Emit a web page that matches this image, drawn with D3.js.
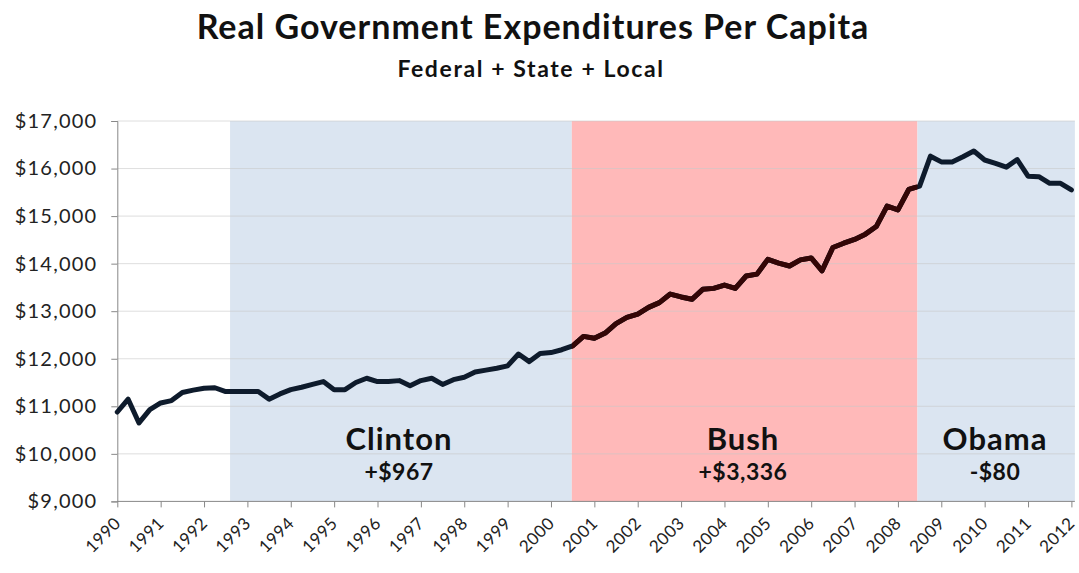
<!DOCTYPE html>
<html>
<head>
<meta charset="utf-8">
<script src="https://cdn.jsdelivr.net/npm/d3@7"></script>
<style>
  body { margin: 0; background: #fff; }
  text { font-family: Lato, "Open Sans", sans-serif; }
</style>
</head>
<body>
<div id="chart"></div>
<script>
// quarterly data, 1990 Q1 .. 2012 Q1
var startYear = 1990;
var spending = [
  10880, 11150, 10650, 10930, 11070, 11120, 11290, 11340, 11380, 11390,
  11310, 11310, 11310, 11310, 11150, 11260, 11350, 11400, 11460, 11520,
  11350, 11350, 11500, 11590, 11520, 11520, 11540, 11430, 11540, 11590,
  11460, 11560, 11610, 11720, 11760, 11800, 11850, 12100, 11940, 12110,
  12130, 12190, 12270, 12470, 12430, 12540, 12740, 12870, 12940, 13080,
  13180, 13360, 13300, 13250, 13460, 13480, 13550, 13480, 13740, 13780,
  14090, 14010, 13950, 14080, 14120, 13850, 14340, 14430, 14510, 14620,
  14780, 15210, 15130, 15560, 15630, 16260, 16140, 16140, 16250, 16370,
  16180, 16110, 16030, 16190, 15840, 15830, 15690, 15690, 15550
];
var yearTicks = d3.range(1990, 2013);
var yTicks = [9000, 10000, 11000, 12000, 13000, 14000, 15000, 16000, 17000];

var presidents = ["Clinton", "Bush", "Obama"];
var termStart = [1992.6, 2000.48, 2008.45];
var termEnd = [2000.48, 2008.45, 2012.08];
var termChange = ["+$967", "+$3,336", "-$80"];
var termColor = ["#dbe5f1", "#ffb9b9", "#dbe5f1"];

var svgWidth = 1079, svgHeight = 573;

var svg = d3.select("#chart").append("svg")
    .attr("width", svgWidth)
    .attr("height", svgHeight);

var x = d3.scaleLinear().domain([1990, 2012]).range([117.3, 1071.4]);
var y = d3.scaleLinear().domain([9000, 17000]).range([501.4, 121]);

var data = spending.map(function (v, i) { return { year: startYear + i / 4, value: v }; });

// title
svg.append("text")
    .attr("x", 533).attr("y", 39)
    .attr("text-anchor", "middle")
    .style("font-size", "34px").style("font-weight", "bold").style("fill", "#111")
    .style("letter-spacing", "1px")
    .text("Real Government Expenditures Per Capita");
svg.append("text")
    .attr("x", 531).attr("y", 77)
    .attr("text-anchor", "middle")
    .style("font-size", "23px").style("font-weight", "bold").style("fill", "#111")
    .style("letter-spacing", "1.6px")
    .text("Federal + State + Local");

// shading
svg.append("g").selectAll("rect")
    .data(presidents)
    .enter().append("rect")
    .attr("x", function (d, i) { return x(termStart[i]); })
    .attr("width", function (d, i) { return x(termEnd[i]) - x(termStart[i]); })
    .attr("y", y(17000))
    .attr("height", y(9000) - y(17000))
    .style("fill", function (d, i) { return termColor[i]; });

// gridlines
svg.append("g").selectAll("line")
    .data(yTicks.slice(1))
    .enter().append("line")
    .attr("x1", x(1990)).attr("x2", x(termEnd[2]))
    .attr("y1", function (d) { return y(d); })
    .attr("y2", function (d) { return y(d); })
    .style("stroke", "#c8c8c8").style("stroke-opacity", 0.6).style("stroke-width", 1);

// axes
var yAxis = svg.append("g")
    .attr("transform", "translate(" + x(1990) + ",0)")
    .call(d3.axisLeft(y).tickValues(yTicks).tickSize(6).tickPadding(14)
        .tickFormat(function (d) { return "$" + d3.format(",")(d); }));
yAxis.select(".domain").style("stroke", "#888");
yAxis.selectAll(".tick line").style("stroke", "#888");
yAxis.selectAll("text").style("font-size", "20px").style("fill", "#222")
    .style("letter-spacing", "1.2px")
    .style("font-family", "Lato, 'Open Sans', sans-serif");

var xAxis = svg.append("g")
    .attr("transform", "translate(0," + y(9000) + ")")
    .call(d3.axisBottom(x).tickValues(yearTicks).tickSize(6).tickFormat(d3.format("d")));
xAxis.select(".domain").attr("d", "M" + x(1990) + ",0H" + x(termEnd[2])).style("stroke", "#888");
xAxis.selectAll(".tick line").style("stroke", "#888");
xAxis.selectAll("text")
    .attr("text-anchor", "end")
    .attr("dy", null)
    .attr("transform", "translate(4,23) rotate(-45)")
    .attr("y", 0).attr("x", 0)
    .style("font-size", "17px").style("fill", "#222")
    .style("letter-spacing", "0.5px")
    .style("font-family", "Lato, 'Open Sans', sans-serif");

// line, with a red-tinted copy clipped to the Bush years
var line = d3.line()
    .x(function (d) { return x(d.year); })
    .y(function (d) { return y(d.value); });

svg.append("path")
    .datum(data)
    .attr("d", line)
    .style("fill", "none").style("stroke", "#0e1b2c")
    .style("stroke-width", 5).style("stroke-linejoin", "round").style("stroke-linecap", "round");

svg.append("clipPath").attr("id", "bushClip")
    .append("rect")
    .attr("x", x(termStart[1])).attr("width", x(termEnd[1]) - x(termStart[1]))
    .attr("y", 0).attr("height", svgHeight);

svg.append("path")
    .datum(data)
    .attr("d", line)
    .attr("clip-path", "url(#bushClip)")
    .style("fill", "none").style("stroke", "#330606")
    .style("stroke-width", 5).style("stroke-linejoin", "round").style("stroke-linecap", "round");

// president labels
var labelX = [399, 743, 995];
var names = svg.append("g").selectAll("g")
    .data(presidents)
    .enter().append("g");
names.append("text")
    .attr("x", function (d, i) { return labelX[i]; })
    .attr("y", 450)
    .attr("text-anchor", "middle")
    .style("font-size", "31px").style("font-weight", "bold").style("fill", "#111")
    .style("letter-spacing", "1px")
    .text(function (d) { return d; });
names.append("text")
    .attr("x", function (d, i) { return labelX[i]; })
    .attr("y", 480)
    .attr("text-anchor", "middle")
    .style("font-size", "23px").style("font-weight", "bold").style("fill", "#111")
    .style("letter-spacing", "0.5px")
    .text(function (d, i) { return termChange[i]; });
</script>
</body>
</html>
